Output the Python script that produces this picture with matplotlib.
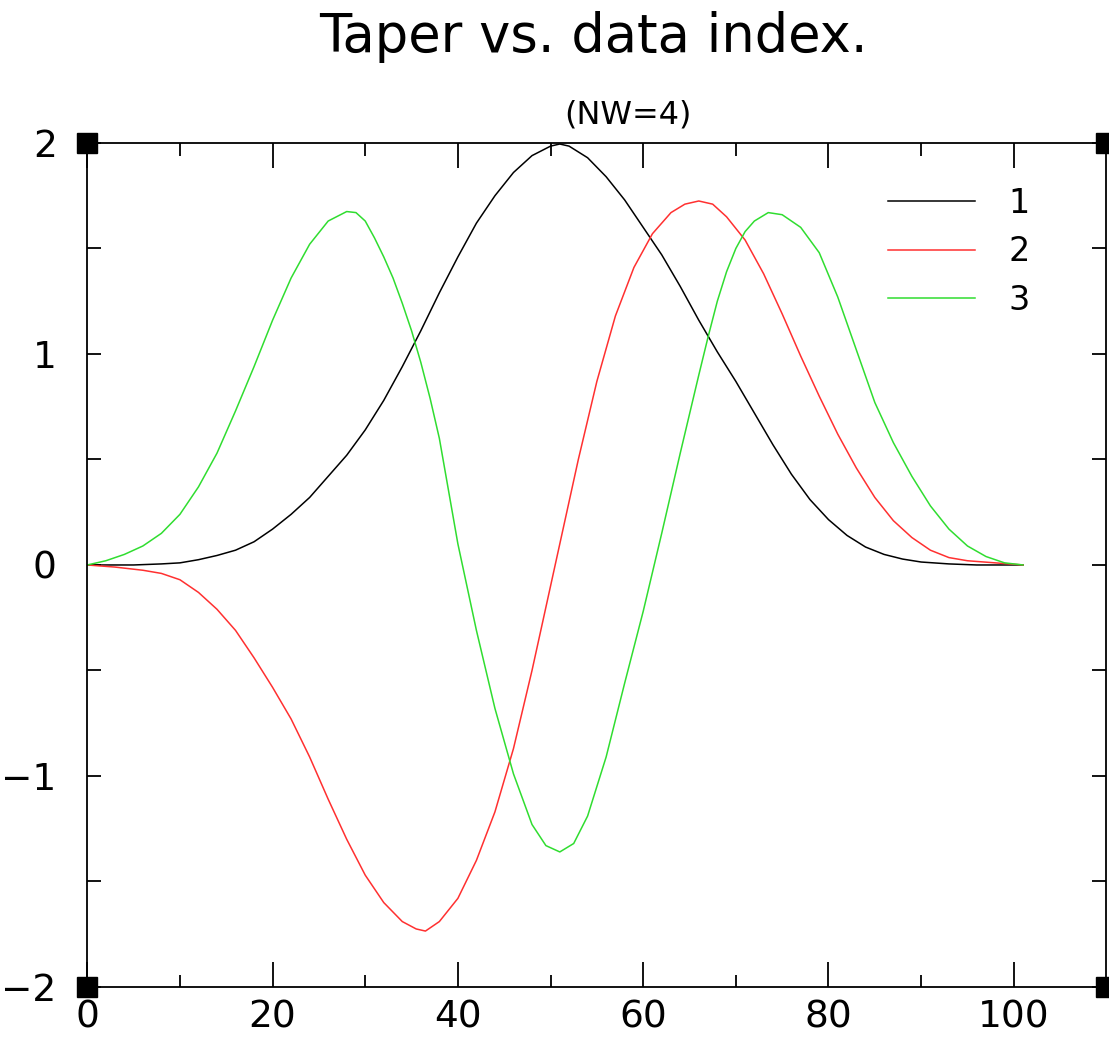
import matplotlib
matplotlib.use("Agg")
import matplotlib.pyplot as plt

# taper values (index, value)
x1 = [0, 5, 8, 10, 12, 14, 16, 18, 20, 22, 24, 26, 28, 30, 32, 34, 36, 38, 40, 42, 44, 46,
      48, 50, 51, 52, 54, 56, 58, 60, 62, 64, 66, 68, 70, 72, 74, 76, 78, 80, 82, 84, 86,
      88, 90, 93, 96, 101]
y1 = [0, 0, 0.005, 0.01, 0.025, 0.045, 0.07, 0.11, 0.17, 0.24, 0.32, 0.42, 0.52, 0.64,
      0.78, 0.94, 1.11, 1.29, 1.46, 1.62, 1.75, 1.86, 1.94, 1.985, 1.995, 1.985, 1.93,
      1.84, 1.73, 1.60, 1.47, 1.32, 1.16, 1.01, 0.87, 0.72, 0.57, 0.43, 0.31, 0.215, 0.14,
      0.085, 0.05, 0.028, 0.014, 0.005, 0, 0]

x2 = [0, 3, 6, 8, 10, 12, 14, 16, 18, 20, 22, 24, 26, 28, 30, 32, 34, 35.5, 36.5, 38, 40,
      42, 44, 46, 48, 50, 51, 53, 55, 57, 59, 61, 63, 64.5, 66, 67.5, 69, 71, 73, 75, 77,
      79, 81, 83, 85, 87, 89, 91, 93, 95, 98, 101]
y2 = [0, -0.01, -0.025, -0.04, -0.07, -0.13, -0.21, -0.31, -0.44, -0.58, -0.73, -0.91,
      -1.11, -1.30, -1.47, -1.60, -1.69, -1.725, -1.735, -1.69, -1.58, -1.40, -1.17, -0.87,
      -0.50, -0.10, 0.10, 0.50, 0.87, 1.18, 1.41, 1.57, 1.67, 1.71, 1.725, 1.71, 1.65, 1.54,
      1.38, 1.19, 0.99, 0.80, 0.62, 0.46, 0.32, 0.21, 0.13, 0.07, 0.035, 0.02, 0.01, 0]

x3 = [0, 2, 4, 6, 8, 10, 12, 14, 16, 18, 20, 22, 24, 26, 28, 29, 30, 31, 32, 33, 34, 35,
      36, 37, 38, 40, 42, 44, 46, 48, 49.5, 51, 52.5, 54, 56, 58, 60, 62, 64, 66, 67, 68,
      69, 70, 71, 72, 73.5, 75, 77, 79, 81, 83, 85, 87, 89, 91, 93, 95, 97, 99, 101]
y3 = [0, 0.02, 0.05, 0.09, 0.15, 0.24, 0.37, 0.53, 0.73, 0.94, 1.16, 1.36, 1.52, 1.63,
      1.675, 1.67, 1.63, 1.55, 1.46, 1.36, 1.24, 1.11, 0.96, 0.79, 0.60, 0.10, -0.31,
      -0.68, -0.99, -1.23, -1.33, -1.36, -1.32, -1.19, -0.91, -0.56, -0.22, 0.15, 0.53,
      0.90, 1.08, 1.25, 1.39, 1.50, 1.58, 1.63, 1.67, 1.66, 1.60, 1.48, 1.27, 1.02, 0.77,
      0.58, 0.42, 0.28, 0.17, 0.09, 0.04, 0.01, 0]

labels = ["1", "2", "3"]
colors = ["black", "#ff3030", "#30dd30"]
xticks = [0, 20, 40, 60, 80, 100]
yticks = [-2, -1, 0, 1, 2]

plt.rcParams["font.family"] = ["DejaVu Sans"]

fig = plt.figure(figsize=(11.09, 10.42), dpi=100)
ax = fig.add_axes([0.0787, 0.0528, 0.919, 0.810])

for xs, ys, c, lab in zip([x1, x2, x3], [y1, y2, y3], colors, labels):
    ax.plot(xs, ys, color=c, lw=1.1, label=lab)

ax.set_xlim(0, 110)
ax.set_ylim(-2, 2)
ax.set_xticks(xticks)
ax.set_xticks(range(10, 110, 20), minor=True)
ax.set_yticks(yticks)
ax.set_yticks([-1.5, -0.5, 0.5, 1.5], minor=True)
ax.tick_params(which="both", direction="in", top=True, right=True, width=1.3,
               labelsize=27, colors="black")
ax.tick_params(axis="x", which="major", length=18, pad=9)
ax.tick_params(axis="x", which="minor", length=9)
ax.tick_params(axis="y", which="both", length=10, pad=22)
for s in ax.spines.values():
    s.set_linewidth(1.3)

# black squares at the four corners of the frame
xl, yl = ax.get_xlim(), ax.get_ylim()
ax.plot([xl[0], xl[1], xl[0], xl[1]], [yl[0], yl[0], yl[1], yl[1]], "s", color="black",
        ms=14, clip_on=False, zorder=5)

ax.legend(loc="upper left", bbox_to_anchor=(0.786, 0.948), frameon=False, fontsize=24,
          handlelength=2.6, handletextpad=1.0, labelspacing=0.46, borderpad=0,
          borderaxespad=0)

fig.text(0.535, 1 - 52 / 1042, "Taper vs. data index.", ha="center", va="baseline",
         fontsize=38)
fig.text(0.566, 1 - 123 / 1042, "(NW=4)", ha="center", va="baseline", fontsize=23)

fig.savefig("out.png", dpi=100)
